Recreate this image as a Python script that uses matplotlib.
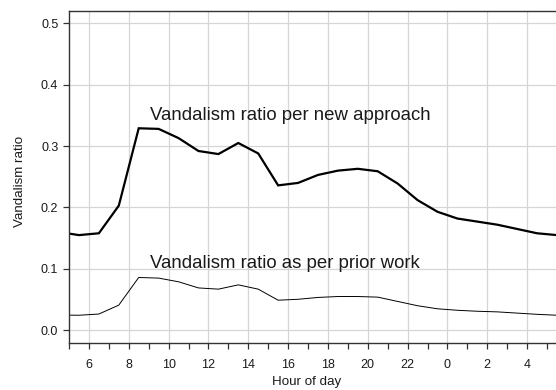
import numpy as np
import matplotlib
matplotlib.use("Agg")
import matplotlib.pyplot as plt

plt.rcParams['font.family'] = ['Liberation Sans', 'DejaVu Sans']

# hour of day (continuing past midnight as 24+)
hours = [4.5, 5.5, 6.5, 7.5, 8.5, 9.5, 10.5, 11.5, 12.5, 13.5, 14.5, 15.5, 16.5,
         17.5, 18.5, 19.5, 20.5, 21.5, 22.5, 23.5, 24.5, 25.5, 26.5, 27.5, 28.5, 29.5]

new_approach = [0.160, 0.155, 0.158, 0.203, 0.329, 0.328, 0.313, 0.292, 0.287,
                0.305, 0.288, 0.236, 0.240, 0.253, 0.260, 0.263, 0.259, 0.239,
                0.212, 0.193, 0.182, 0.177, 0.172, 0.165, 0.158, 0.155]

prior_work = [0.025, 0.0245, 0.0265, 0.041, 0.086, 0.085, 0.079, 0.069, 0.067,
              0.074, 0.067, 0.049, 0.0505, 0.0535, 0.055, 0.055, 0.054, 0.047,
              0.040, 0.035, 0.0326, 0.031, 0.030, 0.028, 0.026, 0.0245]

major_hours = list(range(6, 30, 2))
tick_labels = [str(h % 24) for h in major_hours]
y_ticks = [0.0, 0.1, 0.2, 0.3, 0.4, 0.5]

fig = plt.figure(figsize=(5.56, 3.90), dpi=100)
ax = fig.add_axes([69 / 556, 47 / 390, 487 / 556, 332 / 390])

ax.plot(hours, new_approach, color='black', lw=1.6, solid_joinstyle='miter')
ax.plot(hours, prior_work, color='black', lw=0.7)

ax.text(9.05, 0.349, 'Vandalism ratio per new approach', fontsize=13.4,
        va='center', ha='left', color='#1a1a1a')
ax.text(9.05, 0.108, 'Vandalism ratio as per prior work', fontsize=13.4,
        va='center', ha='left', color='#1a1a1a')

ax.set_xlim(5.1, 29.45)
ax.set_ylim(-0.0207, 0.52)
ax.set_xticks(major_hours)
ax.set_xticklabels(tick_labels)
ax.set_xticks(range(5, 30), minor=True)
ax.set_yticks(y_ticks)
ax.set_yticklabels([f'{v:.1f}' for v in y_ticks])

ax.grid(True, which='major', color='#d6d6d6', lw=0.9)
ax.set_axisbelow(True)

for side in ['left', 'bottom', 'top']:
    ax.spines[side].set_color('#333333')
    ax.spines[side].set_linewidth(1.0)
ax.spines['right'].set_visible(False)

ax.tick_params(axis='both', which='both', length=4.2, width=0.9,
               color='#333333', labelsize=9, labelcolor='#1a1a1a')
ax.tick_params(axis='x', which='both', pad=7.5)
ax.tick_params(axis='y', which='both', pad=3.5)

ax.set_xlabel('Hour of day', fontsize=9.6, color='#1a1a1a')
ax.set_ylabel('Vandalism ratio', fontsize=9.6, color='#1a1a1a')
ax.xaxis.set_label_coords((307 - 69) / 487, -0.099)
ax.yaxis.set_label_coords(-0.088, 0.487)

fig.savefig('out.png', dpi=100)
